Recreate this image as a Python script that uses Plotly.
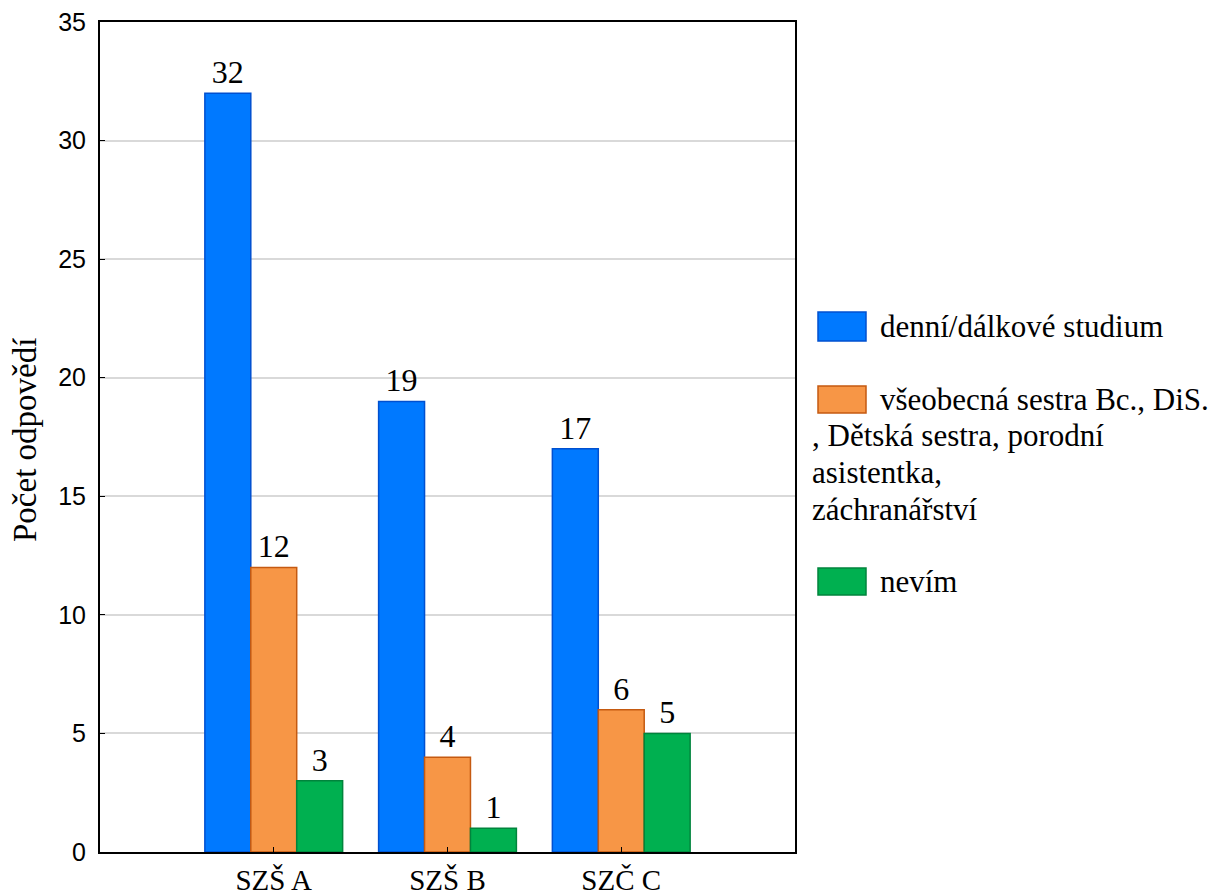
import plotly.graph_objects as go

categories = ["SZŠ A", "SZŠ B", "SZČ C"]
series_names = [
    "denní/dálkové studium",
    "všeobecná sestra Bc., DiS., Dětská sestra, porodní asistentka, záchranářství",
    "nevím",
]
denni = [32, 19, 17]
vseobecna = [12, 4, 6]
nevim = [3, 1, 5]
series_values = [denni, vseobecna, nevim]
fill_colors = ["#0079FF", "#F79646", "#00B050"]
line_colors = ["#0050D0", "#C55A11", "#00843C"]
y_ticks = [0, 5, 10, 15, 20, 25, 30, 35]
y_title = "Počet odpovědí"
legend_lines = [
    ["denní/dálkové studium"],
    ["všeobecná sestra Bc., DiS.", ", Dětská sestra, porodní", "asistentka,", "záchranářství"],
    ["nevím"],
]

W, H = 1219, 894
OFF = 8  # page body margin
L, R, T, B = 100, 795, 22, 852  # target plot area in screen pixels

def px(x):
    return (x - L) / (R - L)

def py(y):
    return (B - y) / (B - T)

SERIF = "Liberation Serif"
SANS = "Liberation Sans"

fig = go.Figure()
for name, vals, fc, lc in zip(series_names, series_values, fill_colors, line_colors):
    fig.add_trace(go.Bar(
        x=categories, y=vals, name=name,
        marker=dict(color=fc, line=dict(color=lc, width=1.5)),
        text=[str(v) for v in vals], textposition="outside",
        textfont=dict(family=SERIF, size=32, color="black"),
        cliponaxis=False, showlegend=False,
    ))

shapes = []
annotations = []
box_tops = [312, 386, 568]
box_bottoms = [341, 413, 595]
line_gap = 36.5
for i, lines in enumerate(legend_lines):
    shapes.append(dict(
        type="rect", xref="paper", yref="paper",
        x0=px(818), x1=px(866), y0=py(box_bottoms[i]), y1=py(box_tops[i]),
        fillcolor=fill_colors[i], line=dict(color=line_colors[i], width=1.5),
    ))
    yc = (box_tops[i] + box_bottoms[i]) / 2
    for j, txt in enumerate(lines):
        annotations.append(dict(
            xref="paper", yref="paper",
            x=px(878) if j == 0 else px(810), y=py(yc + j * line_gap),
            xanchor="left", yanchor="middle", showarrow=False,
            text=txt, font=dict(family=SERIF, size=31, color="black"),
        ))

annotations.append(dict(
    xref="paper", yref="paper", x=px(25), y=py(440),
    xanchor="center", yanchor="middle", showarrow=False, textangle=-90,
    text=y_title, font=dict(family=SERIF, size=33, color="black"),
))

fig.update_layout(
    width=W, height=H,
    margin=dict(l=L - OFF, r=W - R + OFF, t=T - OFF, b=H - B + OFF, autoexpand=False),
    paper_bgcolor="white", plot_bgcolor="white",
    font=dict(family=SERIF),
    barmode="group", bargap=0.207, bargroupgap=0,
    shapes=shapes, annotations=annotations,
    xaxis=dict(
        range=[-1, 3], showline=True, linecolor="black", linewidth=2,
        mirror=True, ticks="inside", ticklen=5, tickcolor="black",
        tickfont=dict(family=SERIF, size=29, color="black"),
        ticklabelstandoff=1,
        showgrid=False, automargin=False,
    ),
    yaxis=dict(
        range=[0, 35.001], tickvals=y_ticks, showline=True, linecolor="black",
        linewidth=2, mirror=True, ticks="inside", ticklen=5, tickcolor="black",
        tickfont=dict(family=SANS, size=25, color="black"),
        ticklabeloverflow="allow", ticklabelstandoff=7,
        showgrid=True, gridcolor="#d9d9d9", gridwidth=1.5, zeroline=False,
        automargin=False,
    ),
)

fig.write_html("out.html")
